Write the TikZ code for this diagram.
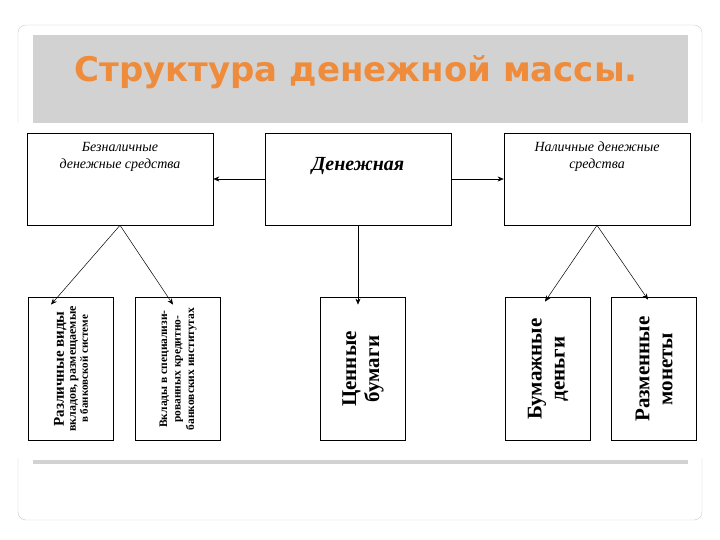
\documentclass[tikz,border=0pt]{standalone}
\usepackage{fontspec}
\setmainfont{Liberation Serif}
\newfontfamily\titlefont{DejaVu Sans}
\usetikzlibrary{arrows.meta}
\definecolor{titleorange}{RGB}{238,140,60}
\tikzset{
  topbox/.style={draw, line width=0.6pt, minimum width=186pt, minimum height=92pt, inner sep=2pt, align=center},
  vbox/.style={draw, line width=1.8pt, rotate=90, minimum width=143pt, minimum height=85pt, inner sep=1pt, align=center, font=\bfseries},
  link/.style={-{Stealth[length=6pt,width=5pt]}, line width=0.5pt}
}
\begin{document}
\begin{tikzpicture}[x=1pt,y=-1pt]
  \useasboundingbox (0,0) rectangle (720,540);
  % slide card
  \fill[white] (0,0) rectangle (720,540);
  \draw[gray!40, fill=white, rounded corners=8pt] (18,25) rectangle (702,520);
  \fill[gray!35] (33,35) rectangle (688,125);
  \fill[gray!35] (33,460) rectangle (688,464);
  \fill[white] (15,123) rectangle (710,458);
  \node[font=\titlefont\bfseries\fontsize{34}{36}\selectfont, text=titleorange] (title) at (356,72) {Структура денежной массы.};
  % top row
  \node[topbox] (cashless) at (120,179) {};
  \node[topbox] (money) at (358,179) {};
  \node[topbox] (cash) at (597,179) {};
  \node[font=\itshape\fontsize{14}{17}\selectfont, align=center] (cashlesstext) at (120,157) {Безналичные\\денежные средства};
  \node[font=\bfseries\itshape\fontsize{20}{22}\selectfont] (moneytext) at (358,166) {Денежная};
  \node[font=\itshape\fontsize{14}{17}\selectfont, align=center] (cashtext) at (597,157) {Наличные денежные\\средства};
  % bottom row
  \node[vbox] (deposits) at (71,369) {{\fontsize{15}{17}\selectfont Различные виды}\\{\fontsize{12}{14}\selectfont вкладов, размещаемые}\\{\fontsize{11}{13}\selectfont в банковской системе}};
  \node[vbox, font=\bfseries\fontsize{11.5}{13.5}\selectfont] (special) at (178,369) {Вклады в специализи-\\рованных кредитно-\\банковских институтах};
  \node[vbox, font=\bfseries\fontsize{21}{23}\selectfont] (securities) at (363,369) {Ценные\\бумаги};
  \node[vbox, font=\bfseries\fontsize{21}{23}\selectfont] (notes) at (548,369) {Бумажные\\деньги};
  \node[vbox, font=\bfseries\fontsize{21}{23}\selectfont] (coins) at (654,369) {Разменные\\монеты};
  % connectors
  \draw[link] (money.west) -- (cashless.east);
  \draw[link] (money.east) -- (cash.west);
  \draw[link] (cashless.south) -- ([xshift=-20pt,yshift=-8pt]deposits.east);
  \draw[link] (cashless.south) -- ([xshift=-5pt,yshift=-8pt]special.east);
  \draw[link] (money.south) -- ([yshift=-8pt]money.south |- securities.east);
  \draw[link] (cash.south) -- ([xshift=-3pt,yshift=-5pt]notes.east);
  \draw[link] (cash.south) -- ([xshift=-6pt,yshift=-3pt]coins.east);
\end{tikzpicture}
\end{document}
